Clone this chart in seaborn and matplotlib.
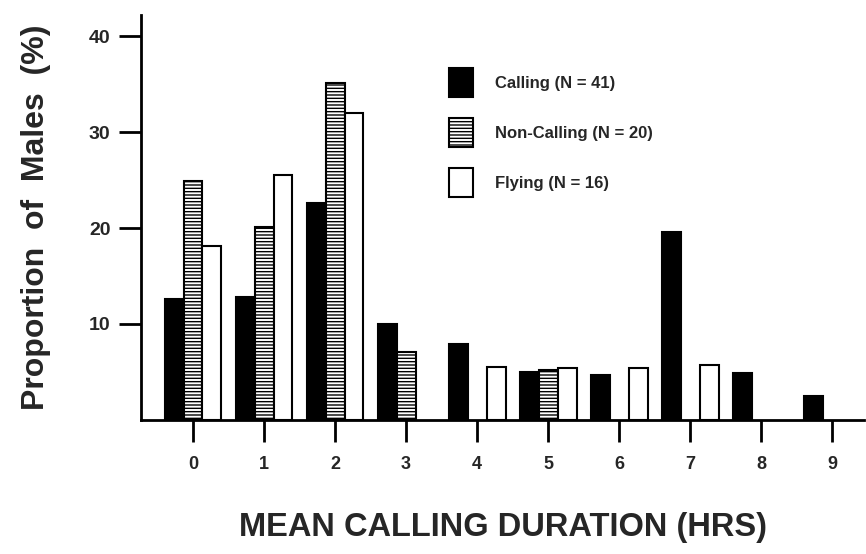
import matplotlib
matplotlib.use('Agg')
import matplotlib.pyplot as plt
import numpy as np
import pandas as pd
import seaborn as sns
from matplotlib.patches import Patch

# 평균 울음 지속시간(시간)별 수컷 비율(%)
hours = ['0', '1', '2', '3', '4', '5', '6', '7', '8', '9']
calling = [12.6, 12.8, 22.6, 10.0, 7.9, 5.0, 4.7, 19.6, 4.9, 2.5]
non_calling = [24.9, 20.1, 35.1, 7.1, np.nan, 5.2, np.nan, np.nan, np.nan, np.nan]
flying = [18.1, 25.5, 32.0, np.nan, 5.5, 5.4, 5.4, 5.7, np.nan, np.nan]
groups = ['Calling', 'Non-Calling', 'Flying']
legend_labels = ['Calling (N = 41)', 'Non-Calling (N = 20)', 'Flying (N = 16)']
y_ticks = [10, 20, 30, 40]

df = pd.DataFrame({
    'hours': hours * 3,
    'group': [g for g in groups for _ in hours],
    'value': calling + non_calling + flying,
}).dropna()

sns.set_style('ticks')
plt.rcParams['font.family'] = ['Liberation Sans', 'DejaVu Sans']
plt.rcParams['hatch.linewidth'] = 1.0

fig, ax = plt.subplots(figsize=(8.66, 5.54), dpi=100)
fig.subplots_adjust(left=0.163, right=0.998, bottom=0.242, top=0.973)

colors = {'Calling': 'black', 'Non-Calling': 'white', 'Flying': 'white'}
sns.barplot(data=df, x='hours', y='value', hue='group', order=hours, hue_order=groups,
            palette=colors, edgecolor='black', linewidth=1.5, width=0.8,
            errorbar=None, legend=False, ax=ax)

# 울지 않는 수컷 = 가로 줄무늬
for cont, g in zip(ax.containers, groups):
    if g == 'Non-Calling':
        for bar in cont:
            bar.set_hatch('-----')

handles = []
for g in groups:
    handles.append(Patch(facecolor=colors[g], edgecolor='black', linewidth=1.5,
                         hatch='-----' if g == 'Non-Calling' else None))
leg = ax.legend(handles, legend_labels, loc='upper left', bbox_to_anchor=(0.405, 0.905),
                frameon=False, prop={'size': 12, 'weight': 'bold'},
                handlelength=1.45, handleheight=2.3, labelspacing=1.25, handletextpad=1.3)

ax.set_xlim(-0.73, 9.45)
ax.set_ylim(0, 42.2)
ax.set_yticks(y_ticks)
ax.set_yticklabels([str(t) for t in y_ticks], fontsize=14, fontweight='bold')
ax.set_xticklabels(hours, fontsize=13, fontweight='bold')
ax.tick_params(axis='both', length=16, width=2, direction='out', color='black')
ax.tick_params(axis='x', pad=10)
ax.tick_params(axis='y', pad=6)

for s in ['top', 'right']:
    ax.spines[s].set_visible(False)
for s in ['left', 'bottom']:
    ax.spines[s].set_linewidth(2)
    ax.spines[s].set_color('black')

ax.set_xlabel('MEAN CALLING DURATION (HRS)', fontsize=23.5, fontweight='bold', labelpad=28)
ax.set_ylabel('Proportion  of  Males  (%)', fontsize=23, fontweight='bold', labelpad=27)

plt.savefig('out.png', dpi=100)
